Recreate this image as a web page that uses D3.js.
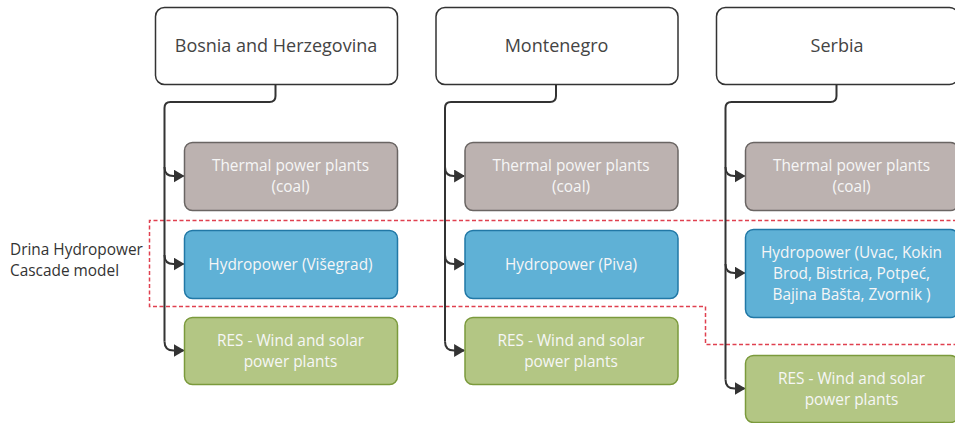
<!DOCTYPE html>
<html>
<head>
<meta charset="utf-8">
<script src="https://cdn.jsdelivr.net/npm/d3@7"></script>
<style>
  html, body { margin: 0; padding: 0; background: #fff; }
  svg { display: block; font-family: "Open Sans", sans-serif; }
</style>
</head>
<body>
<svg id="diagram"></svg>
<script>
// Diagram content
const countries = ['Bosnia and Herzegovina', 'Montenegro', 'Serbia'];
const thermalLabels = [['Thermal power plants', '(coal)'], ['Thermal power plants', '(coal)'], ['Thermal power plants', '(coal)']];
const hydroLabels = [
  ['Hydropower (Višegrad)'],
  ['Hydropower (Piva)'],
  ['Hydropower (Uvac, Kokin', 'Brod, Bistrica, Potpeć,', 'Bajina Bašta, Zvornik )']
];
const resLabels = [['RES - Wind and solar', 'power plants'], ['RES - Wind and solar', 'power plants'], ['RES - Wind and solar', 'power plants']];
const groupLabel = ['Drina Hydropower', 'Cascade model'];

const width = 955, height = 423;
const svg = d3.select('#diagram').attr('width', width).attr('height', height);

// column index -> left edge of the country box
const x = d3.scaleLinear().domain([0, 1]).range([155, 435.5]);
const countryW = 242, countryH = 77, countryY = 7;
const boxOffset = 29, boxW = 213;

const styles = {
  thermal: { fill: '#bcb2b0', stroke: '#6a6563' },
  hydro: { fill: '#5fb1d6', stroke: '#2178a6' },
  res: { fill: '#b3c684', stroke: '#7b9a3c' }
};

// rows per column: top and height
function rowsFor(i) {
  const serbia = i === 2;
  return [
    { kind: 'thermal', y: 142, h: 68, lines: thermalLabels[i] },
    { kind: 'hydro', y: serbia ? 229 : 230, h: serbia ? 88 : 68, lines: hydroLabels[i] },
    { kind: 'res', y: serbia ? 355 : 317, h: 67, lines: resLabels[i] }
  ];
}

svg.append('defs').append('marker')
  .attr('id', 'arrow')
  .attr('viewBox', '0 0 10 10')
  .attr('refX', 9).attr('refY', 5)
  .attr('markerWidth', 11).attr('markerHeight', 13)
  .attr('markerUnits', 'userSpaceOnUse')
  .attr('orient', 'auto')
  .attr('preserveAspectRatio', 'none')
  .append('path')
  .attr('d', 'M0,0 L10,5 L0,10 Z')
  .attr('fill', '#333');

// dashed outline of the Drina cascade
const dash = d3.path();
dash.moveTo(width + 2, 220.5);
dash.lineTo(149.5, 220.5);
dash.lineTo(149.5, 306.5);
dash.lineTo(705.5, 306.5);
dash.lineTo(705.5, 344.5);
dash.lineTo(width + 2, 344.5);
svg.append('path')
  .attr('d', dash.toString())
  .attr('fill', 'none')
  .attr('stroke', '#e0404f')
  .attr('stroke-width', 1.5)
  .attr('stroke-dasharray', '4 2.5');

svg.append('text')
  .attr('fill', '#333')
  .attr('font-size', 15.4)
  .selectAll('tspan')
  .data(groupLabel)
  .join('tspan')
  .attr('x', 10)
  .attr('y', (d, i) => 255 + i * 21)
  .text(d => d);

countries.forEach((name, i) => {
  const x0 = x(i);
  const g = svg.append('g');
  const rows = rowsFor(i);

  // connector from country box down the left side
  const stemX = x0 + 120.5, trunkX = x0 + 9.5, r = 6;
  const lastY = rows[rows.length - 1].y + rows[rows.length - 1].h / 2;
  const p = d3.path();
  p.moveTo(stemX, countryY + countryH);
  p.lineTo(stemX, 102 - r);
  p.quadraticCurveTo(stemX, 102, stemX - r, 102);
  p.lineTo(trunkX + r, 102);
  p.quadraticCurveTo(trunkX, 102, trunkX, 102 + r);
  p.lineTo(trunkX, lastY - 9);
  g.append('path')
    .attr('d', p.toString())
    .attr('fill', 'none')
    .attr('stroke', '#333')
    .attr('stroke-width', 2);

  rows.forEach(row => {
    const cy = row.y + row.h / 2;
    const a = d3.path();
    a.moveTo(trunkX, cy - 9);
    a.quadraticCurveTo(trunkX, cy, trunkX + 9, cy);
    a.lineTo(x0 + boxOffset - 0.5, cy);
    g.append('path')
      .attr('d', a.toString())
      .attr('fill', 'none')
      .attr('stroke', '#333')
      .attr('stroke-width', 2)
      .attr('marker-end', 'url(#arrow)');

    g.append('rect')
      .attr('x', x0 + boxOffset + 0.5)
      .attr('y', row.y + 0.5)
      .attr('width', boxW)
      .attr('height', row.h)
      .attr('rx', 8)
      .attr('fill', styles[row.kind].fill)
      .attr('stroke', styles[row.kind].stroke)
      .attr('stroke-width', 1.5);

    const lh = 21;
    const startY = cy - (row.lines.length - 1) * lh / 2 + 5.5;
    g.append('text')
      .attr('text-anchor', 'middle')
      .attr('fill', '#f6f6f6')
      .attr('font-size', 15.4)
      .selectAll('tspan')
      .data(row.lines)
      .join('tspan')
      .attr('x', x0 + boxOffset + boxW / 2)
      .attr('y', (d, k) => startY + k * lh)
      .text(d => d);
  });

  g.append('rect')
    .attr('x', x0 + 0.5)
    .attr('y', countryY + 0.5)
    .attr('width', countryW)
    .attr('height', countryH)
    .attr('rx', 9)
    .attr('fill', '#fff')
    .attr('stroke', '#333')
    .attr('stroke-width', 1.5);

  g.append('text')
    .attr('x', x0 + countryW / 2)
    .attr('y', countryY + countryH / 2 + 6.5)
    .attr('text-anchor', 'middle')
    .attr('fill', '#444')
    .attr('font-size', 18)
    .text(name);
});
</script>
</body>
</html>
